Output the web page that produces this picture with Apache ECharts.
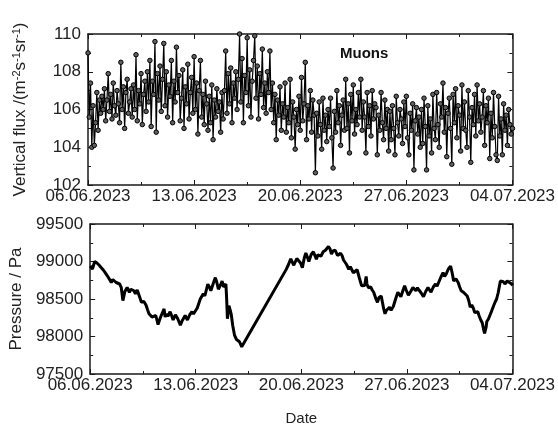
<!DOCTYPE html>
<html>
<head>
<meta charset="utf-8">
<script src="https://cdn.jsdelivr.net/npm/echarts@6/dist/echarts.min.js"></script>
<style>
  html, body { margin: 0; padding: 0; background: #fff; }
  #chart { width: 558px; height: 427px; }
</style>
</head>
<body>
<div id="chart"></div>
<script>
// x values are days since 06.06.2023 00:00
var startDate = Date.UTC(2023, 5, 6)
var xTicks = [0, 7, 14, 21, 28] // 06.06, 13.06, 20.06, 27.06, 04.07

// muon vertical flux, one value every 2 hours (12 per day)
var muonStep = 1 / 12
var muonFlux = [
  109.0, 105.6, 107.4, 104.0, 106.2, 104.1, 105.3, 106.9, 104.9, 106.5, 105.8, 106.7,
  106.0, 107.1, 105.4, 106.5, 107.9, 105.9, 106.8, 105.5, 107.4, 106.2, 105.7, 107.0,
  106.3, 105.3, 108.5, 106.0, 107.2, 105.0, 106.9, 107.6, 105.8, 106.4, 107.1, 105.6,
  107.3, 106.0, 108.9, 105.4, 107.0, 106.3, 107.9, 105.2, 106.8, 107.5, 105.9, 108.0,
  106.4, 108.6, 105.1, 107.5, 106.8, 109.6, 104.8, 107.9, 106.5, 108.3, 105.9, 107.6,
  109.5, 106.2, 108.0, 105.6, 107.3, 106.7, 108.6, 105.3, 107.5, 106.4, 109.3, 106.9,
  107.8, 105.4, 106.6, 108.1, 105.0, 107.2, 106.3, 108.4, 105.5, 106.9, 107.7, 105.8,
  108.8, 106.0, 107.4, 104.7, 107.0, 108.6, 105.6, 106.8, 105.2, 107.5, 106.3, 104.9,
  106.7, 105.3, 107.3, 104.4, 106.5, 105.6, 107.1, 105.9, 106.4, 104.8, 106.9, 105.5,
  107.0, 109.1, 105.8, 107.9, 106.3, 108.2, 105.3, 107.4, 106.6, 108.0, 106.0, 107.6,
  110.0, 106.4, 108.7, 105.3, 107.8, 106.9, 109.8, 106.2, 108.1, 105.6, 107.5, 108.6,
  109.9, 106.6, 108.3, 105.5, 107.9, 106.8, 109.2, 106.1, 107.4, 105.8, 108.0, 106.9,
  109.1, 106.0, 107.4, 105.3, 106.8, 104.4, 106.5, 105.7, 107.2, 104.9, 106.3, 105.6,
  107.4, 104.8, 106.1, 105.3, 107.6, 104.5, 106.4, 105.6, 103.9, 106.0, 105.2, 106.7,
  104.9, 107.7, 105.4, 106.3, 108.5, 104.4, 106.2, 105.5, 107.0, 104.8, 106.5, 105.7,
  102.65, 105.8, 104.6, 106.4, 105.2, 103.9, 106.6, 104.9, 105.7, 104.3, 106.0, 105.1,
  106.6, 104.5, 102.9, 105.9, 104.8, 107.0, 105.3, 106.2, 104.1, 105.7, 106.5, 104.9,
  107.6, 105.0, 106.3, 103.7, 106.8, 105.4, 107.3, 104.7, 106.0, 105.2, 106.9, 105.6,
  107.6, 104.9, 106.4, 105.6, 103.7, 106.9, 105.1, 106.2, 104.6, 107.0, 105.5, 106.3,
  106.1, 103.6, 105.7, 104.9, 106.9, 105.3, 104.4, 106.5, 105.0, 106.0, 103.8, 105.9,
  104.4, 106.2, 105.0, 103.6, 106.7, 105.3, 104.6, 106.0, 105.5, 104.2, 106.4, 105.1,
  106.7, 104.5, 103.6, 105.8, 104.9, 106.3, 102.8, 105.4, 106.1, 104.7, 105.6, 104.0,
  106.0, 104.2, 106.6, 105.1, 102.8, 106.2, 104.6, 105.5, 103.7, 106.8, 105.0, 104.4,
  106.9, 105.2, 104.0, 106.3, 105.6, 107.4, 104.8, 106.1, 103.5, 105.8, 106.6, 105.0,
  103.1, 106.8, 105.3, 107.1, 104.5, 106.2, 105.7, 103.8, 107.3, 105.0, 106.4, 104.9,
  104.0, 107.0, 105.6, 103.2, 106.1, 105.2, 106.8, 104.6, 107.3, 105.4, 106.3, 104.8,
  105.6, 107.0, 104.1, 106.2, 105.3, 106.6, 103.4, 105.8, 104.5, 106.9, 105.1, 103.6,
  103.3, 106.7, 104.6, 105.5, 103.6, 106.3, 104.9, 105.7, 104.1, 106.0, 105.2, 104.7,
  105.0
]

// pressure readings (day offset, Pa); gap between 16.06 and 19.06
var pressureDays = [
  0.0, 0.15, 0.3, 0.45, 0.6, 0.74, 0.9, 1.07, 1.2, 1.29, 1.4, 1.5, 1.6, 1.72, 1.84, 1.95,
  2.06, 2.12, 2.17, 2.3, 2.45, 2.6, 2.7, 2.8, 2.9, 3.0, 3.12, 3.25, 3.4, 3.55, 3.7, 3.8,
  3.9, 4.0, 4.1, 4.2, 4.35, 4.45, 4.5, 4.65, 4.75, 4.9, 4.97, 5.05, 5.15, 5.3, 5.4, 5.5,
  5.65, 5.8, 5.98, 6.1, 6.3, 6.45, 6.6, 6.75, 6.85, 6.97, 7.1, 7.3, 7.4, 7.5, 7.6, 7.8,
  7.9, 8.0, 8.15, 8.3, 8.4, 8.5, 8.65, 8.75, 8.85, 9.0, 9.05, 9.1, 9.2, 9.3, 9.35, 9.45,
  9.57, 9.7, 9.8, 9.9, 10.05,
  13.0, 13.15, 13.3, 13.5, 13.7, 13.8, 13.95, 14.07, 14.2, 14.3, 14.4, 14.5, 14.65, 14.8,
  14.9, 15.0, 15.1, 15.2, 15.3, 15.45, 15.6, 15.8, 15.9, 16.0, 16.1, 16.25, 16.4, 16.5,
  16.6, 16.7, 16.8, 16.9, 17.0, 17.15, 17.25, 17.35, 17.45, 17.55, 17.7, 17.85, 18.0,
  18.1, 18.2, 18.3, 18.35, 18.45, 18.6, 18.7, 18.8, 18.95, 19.05, 19.15, 19.3, 19.45,
  19.55, 19.65, 19.75, 19.85, 19.95, 20.1, 20.25, 20.4, 20.5, 20.6, 20.75, 20.85, 20.95,
  21.1, 21.25, 21.4, 21.5, 21.6, 21.7, 21.8, 21.95, 22.1, 22.25, 22.4, 22.5, 22.6, 22.75,
  22.9, 23.0, 23.1, 23.25, 23.4, 23.5, 23.6, 23.75, 23.9, 24.0, 24.1, 24.25, 24.4, 24.5,
  24.6, 24.75, 24.85, 25.0, 25.1, 25.2, 25.3, 25.4, 25.5, 25.6, 25.7, 25.8, 25.9, 26.0,
  26.08, 26.15, 26.25, 26.3, 26.4, 26.5, 26.6, 26.75, 26.85, 26.95, 27.05, 27.2, 27.3,
  27.4, 27.5, 27.65, 27.8, 27.95, 28.0
]
var pressureVals = [
  98940, 98900, 99000, 98980, 98950, 98917, 98880, 98829, 98790, 98772, 98720, 98760, 98760, 98720, 98740, 98700,
  98654, 98560, 98478, 98600, 98654, 98590, 98630, 98654, 98610, 98570, 98620, 98600, 98456, 98470, 98421, 98360,
  98303, 98280, 98259, 98240, 98280, 98200, 98158, 98250, 98230, 98368, 98260, 98300, 98270, 98330, 98280, 98220,
  98290, 98240, 98150, 98210, 98280, 98220, 98290, 98330, 98300, 98280, 98380, 98500, 98480, 98570, 98540, 98697,
  98660, 98610, 98700, 98785, 98720, 98630, 98690, 98740, 98660, 98700, 98500, 98237, 98410, 98340, 98300, 98150,
  98017, 97960, 97980, 97930, 97863,
  98895, 98960, 99036, 98950, 99040, 99049, 98980, 98917, 99050, 99114, 99060, 99000, 99090, 99130,
  99080, 99030, 99090, 99110, 99070, 99130, 99150, 99200, 99170, 99100, 99140, 99150, 99080, 99060,
  99110, 99080, 99020, 99000, 98960, 98895, 98930, 98910, 98850, 98829, 98890, 98780, 98675,
  98700, 98680, 98800, 98700, 98650, 98660, 98620, 98590, 98500, 98456, 98520, 98540, 98380,
  98303, 98350, 98370, 98390, 98350, 98400, 98500, 98590, 98560, 98530, 98620, 98675, 98620,
  98550, 98600, 98654, 98630, 98610, 98650, 98620, 98580, 98530, 98600, 98654, 98620, 98590, 98660,
  98700, 98670, 98680, 98790, 98851, 98800, 98830, 98900, 98938, 98850, 98740, 98770, 98720, 98660,
  98610, 98590, 98570, 98540, 98480, 98390, 98420, 98380, 98320, 98300, 98330, 98270, 98220, 98180,
  98100, 98040, 98120, 98200, 98230, 98250, 98330, 98410, 98460, 98500, 98580, 98740, 98720,
  98730, 98700, 98740, 98720, 98700, 98680
]

var fluxTicks = [102, 104, 106, 108, 110]
var pressureTicks = [97500, 98000, 98500, 99000, 99500]

function dateLabel(d) {
  var t = new Date(startDate + d * 86400000)
  var dd = String(t.getUTCDate()).padStart(2, '0')
  var mm = String(t.getUTCMonth() + 1).padStart(2, '0')
  return dd + '.' + mm + '.' + t.getUTCFullYear()
}

var chart = echarts.init(document.getElementById('chart'))

var lineCol = '#1a1a1a'
var labelStyle = { color: '#222', fontSize: 17, fontFamily: 'Liberation Sans, Arial' }
var tickStyle = { color: lineCol, width: 1 }

function xAx(grid, pos, labels, name) {
  return {
    type: 'value', gridIndex: grid, position: pos,
    min: xTicks[0], max: xTicks[xTicks.length - 1], interval: 7,
    axisLine: { show: true, onZero: false, lineStyle: { color: lineCol, width: 1.5 } },
    axisTick: { show: true, inside: true, length: 5, lineStyle: tickStyle },
    minorTick: { show: true, splitNumber: 2, length: 3, lineStyle: tickStyle },
    splitLine: { show: false },
    axisLabel: labels ? Object.assign({ margin: 3, formatter: dateLabel }, labelStyle) : { show: false },
    name: name || '', nameLocation: 'middle', nameGap: 37,
    nameTextStyle: { color: '#222', fontSize: 15, fontFamily: 'Liberation Sans, Arial' }
  }
}

function yAx(grid, pos, ticks, labels, name, gap, rich) {
  return {
    type: 'value', gridIndex: grid, position: pos,
    min: ticks[0], max: ticks[ticks.length - 1], interval: ticks[1] - ticks[0],
    axisLine: { show: true, onZero: false, lineStyle: { color: lineCol, width: 1.5 } },
    axisTick: { show: true, inside: true, length: 5, lineStyle: tickStyle },
    minorTick: { show: true, splitNumber: 2, length: 3, lineStyle: tickStyle },
    splitLine: { show: false },
    axisLabel: labels ? Object.assign({ margin: 7, formatter: function (v) { return String(v) } }, labelStyle) : { show: false },
    name: name || '', nameLocation: 'middle', nameGap: gap || 0,
    nameTextStyle: { color: '#222', fontSize: 17, fontFamily: 'Liberation Sans, Arial', rich: rich }
  }
}

var supRich = {
  n: { fontSize: 17, color: '#222', fontFamily: 'Liberation Sans, Arial' },
  s: { fontSize: 11, color: '#222', fontFamily: 'Liberation Sans, Arial', verticalAlign: 'top', padding: [0, 0, 8, 0] }
}

var option = {
  animation: false,
  backgroundColor: '#fff',
  title: {
    text: 'Muons', left: 335, top: 41,
    textStyle: { fontSize: 15, fontWeight: 'bold', color: '#111', fontFamily: 'Liberation Sans, Arial' }
  },
  grid: [
    { left: 88, top: 34, width: 426, height: 151 },
    { left: 88, top: 224, width: 426, height: 152 }
  ],
  xAxis: [
    xAx(0, 'bottom', true),
    xAx(0, 'top', false),
    xAx(1, 'bottom', true, 'Date'),
    xAx(1, 'top', false)
  ],
  yAxis: [
    yAx(0, 'left', fluxTicks, true,
      '{n|Vertical flux /(m}{s|-2}{n|s}{s|-1}{n|sr}{s|-1}{n|)}', 58, supRich),
    yAx(0, 'right', fluxTicks, false),
    yAx(1, 'left', pressureTicks, true, 'Pressure / Pa', 63),
    yAx(1, 'right', pressureTicks, false)
  ],
  series: [
    {
      type: 'line', xAxisIndex: 0, yAxisIndex: 0,
      data: muonFlux.map(function (v, i) { return [i * muonStep, v] }),
      symbol: 'circle', symbolSize: 4.5,
      lineStyle: { color: '#000', width: 1.2 },
      itemStyle: { color: '#5f5f5f', borderColor: '#000', borderWidth: 1 }
    },
    {
      type: 'line', xAxisIndex: 2, yAxisIndex: 2,
      data: pressureDays.map(function (d, i) { return [d, pressureVals[i]] }),
      showSymbol: false,
      lineStyle: { color: '#000', width: 3 }
    }
  ]
}

chart.setOption(option)
</script>
</body>
</html>
